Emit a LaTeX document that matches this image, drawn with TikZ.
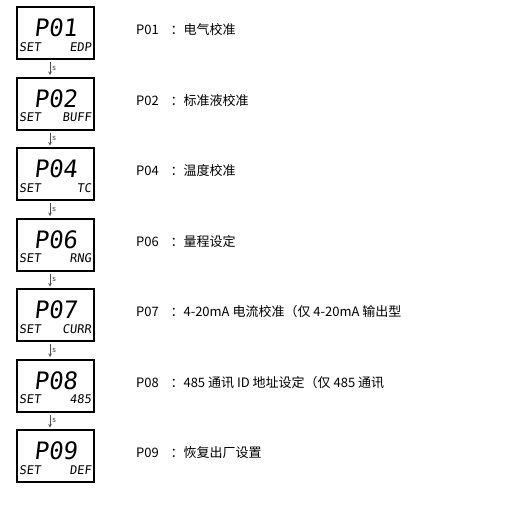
\documentclass[tikz,border=0pt]{standalone}
\usepackage{fontspec}
\newfontfamily\cjk{Noto Sans CJK SC}
\newfontfamily\lcd[FakeSlant=0.12]{DejaVu Sans Mono}
\usetikzlibrary{positioning}

\tikzset{
  lcdbox/.style={draw, line width=2pt, minimum width=77pt, minimum height=52pt, inner sep=0pt},
  bigcode/.style={inner sep=0pt, font=\lcd\fontsize{24}{24}\selectfont},
  smallcode/.style={inner sep=0pt, font=\lcd\fontsize{12}{12}\selectfont},
  desc/.style={anchor=west, inner sep=0pt, font=\cjk\fontsize{13}{13}\selectfont},
  stepline/.style={->, >=stealth, semithick, gray!60!black, shorten <=2pt, shorten >=1.5pt}
}

\begin{document}
\begin{tikzpicture}[x=1pt,y=-1pt]
\useasboundingbox (0,0) rectangle (507,509);
% panels and their meaning
\foreach \i/\code/\mode/\txt in {1/P01/EDP/电气校准, 2/P02/BUFF/标准液校准, 3/P04/TC/温度校准, 4/P06/RNG/量程设定, 5/P07/CURR/4-20mA 电流校准（仅 4-20mA 输出型, 6/P08/485/485 通讯 ID 地址设定（仅 485 通讯, 7/P09/DEF/恢复出厂设置} {
  \node [lcdbox] (box\i) at (55.5, 33+70.5*\i-70.5) {};
  \node [bigcode] (big\i) at ([yshift=5pt]box\i.center) {\code};
  \node [smallcode, anchor=west] (set\i) at ([xshift=3pt, yshift=-14pt]box\i.west) {SET};
  \node [smallcode, anchor=east] (mode\i) at ([xshift=-3.5pt, yshift=-14pt]box\i.east) {\mode};
  \node [desc] (lab\i) at (136, 30+70.5*\i-70.5) {\code\hspace{0.9em}：\txt};
}
% key S steps to the next one
\foreach \a/\b in {1/2, 2/3, 3/4, 4/5, 5/6, 6/7} {
  \draw [stepline] ([xshift=-5.5pt]box\a.south) -- ([xshift=-5.5pt]box\b.north) node [midway, right, inner sep=2pt, font=\sffamily\fontsize{9}{9}\selectfont] {s};
}
\end{tikzpicture}
\end{document}
